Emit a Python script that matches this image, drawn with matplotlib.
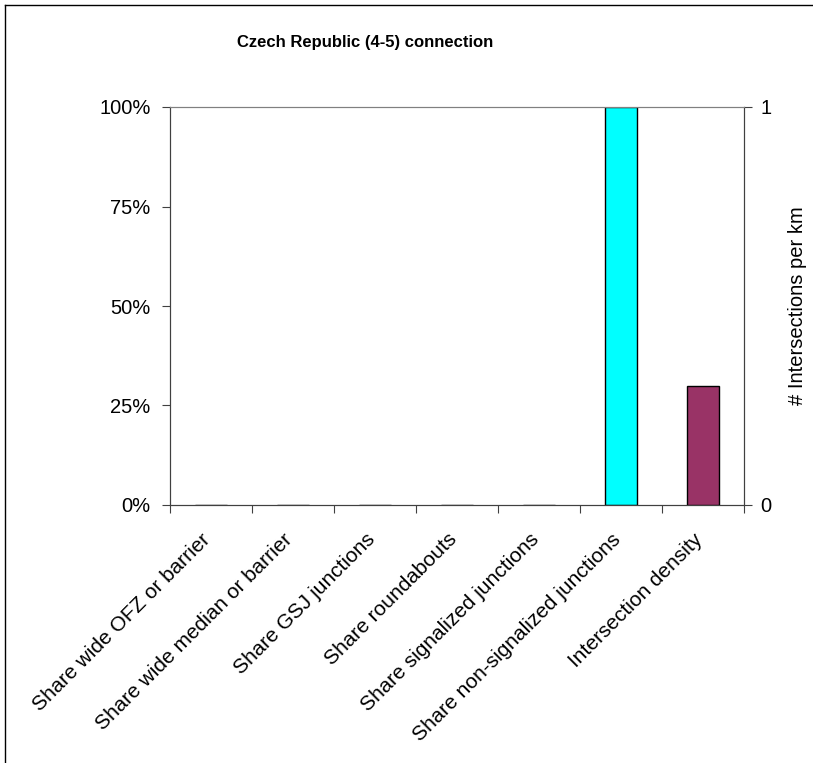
import numpy as np
import matplotlib
matplotlib.use('Agg')
import matplotlib.pyplot as plt
import matplotlib.transforms as mtransforms
from matplotlib.ticker import FuncFormatter
from matplotlib.lines import Line2D

plt.rcParams['font.family'] = ['Liberation Sans', 'DejaVu Sans']

categories = ['Share wide OFZ or barrier', 'Share wide median or barrier',
              'Share GSJ junctions', 'Share roundabouts',
              'Share signalized junctions', 'Share non-signalized junctions',
              'Intersection density']
share = [0.0, 0.0, 0.0, 0.0, 0.0, 1.0, np.nan]
density = [np.nan, np.nan, np.nan, np.nan, np.nan, np.nan, 0.3]

fig = plt.figure(figsize=(8.13, 7.63), dpi=100)
ax = fig.add_axes([170 / 813, 1 - 505 / 763, 574 / 813, 398 / 763])
ax2 = ax.twinx()

x = np.arange(len(categories))
ax.bar(x, share, width=0.4, color='#00FFFF', edgecolor='black', linewidth=1)
ax2.bar(x, density, width=0.4, color='#993366', edgecolor='black', linewidth=1)

ax.set_xlim(-0.5, len(categories) - 0.5)
ax.set_ylim(0, 1)
ax2.set_ylim(0, 1)

ax.set_yticks([0, 0.25, 0.5, 0.75, 1.0])
ax.yaxis.set_major_formatter(FuncFormatter(lambda v, p: f'{v * 100:.0f}%'))
ax2.set_yticks([0, 1])

# ticks mark the category boundaries; names are placed under each bar slot
ax.set_xticks(np.arange(-0.5, len(categories)))
ax.set_xticklabels([])
ax.tick_params(axis='x', length=6, direction='out', color='#404040')
offset = mtransforms.ScaledTranslation(-10 / 100, -25 / 100, fig.dpi_scale_trans)
for i, name in enumerate(categories):
    ax.text(x[i], 0, name, transform=ax.get_xaxis_transform() + offset,
            rotation=45, ha='right', va='top', rotation_mode='anchor',
            fontsize=15)

ax.tick_params(axis='y', length=6, direction='out', labelsize=14.5,
               color='#404040', pad=8)
ax2.tick_params(axis='y', length=6, direction='out', labelsize=14.5,
                color='#404040', pad=6)

for a in (ax, ax2):
    for side in ('left', 'right', 'bottom'):
        a.spines[side].set_color('#404040')
    a.spines['top'].set_color('#808080')

ax2.set_ylabel('# Intersections per km', fontsize=14.5, labelpad=12)

fig.text(365 / 813, 1 - 42 / 763, 'Czech Republic (4-5) connection',
         ha='center', va='center', fontsize=12, fontweight='bold')

# outer frame edges
fig.add_artist(Line2D([5 / 813, 5 / 813], [0, 1 - 5 / 763],
                      transform=fig.transFigure, color='black', lw=1))
fig.add_artist(Line2D([5 / 813, 1], [1 - 5 / 763, 1 - 5 / 763],
                      transform=fig.transFigure, color='black', lw=1))

fig.savefig('out.png', dpi=100)
